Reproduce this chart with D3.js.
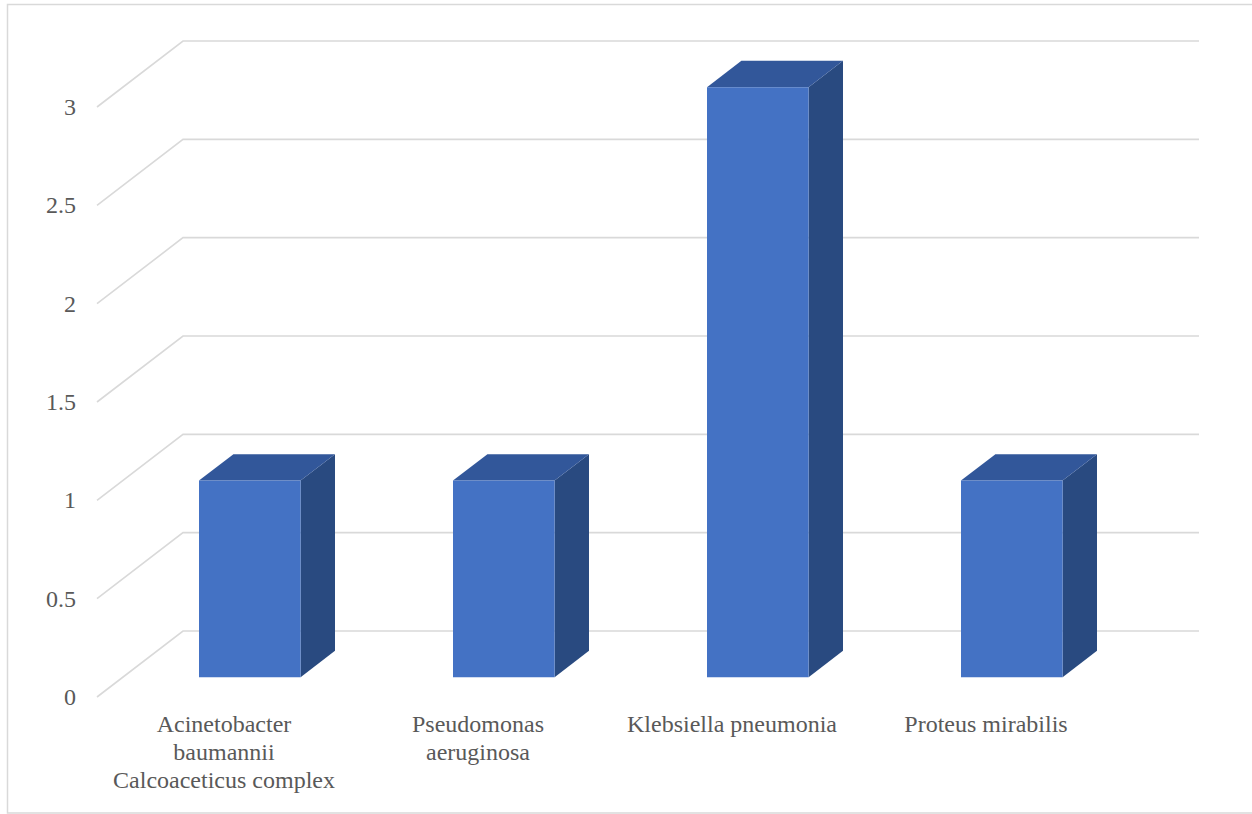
<!DOCTYPE html>
<html>
<head>
<meta charset="utf-8">
<script src="https://cdn.jsdelivr.net/npm/d3@7"></script>
<style>
  html, body { margin: 0; padding: 0; background: #fff; }
  svg { display: block; }
</style>
</head>
<body>
<svg id="chart" width="1252" height="814"></svg>
<script>
// Isolates per organism
const categories = [
  ["Acinetobacter", "baumannii", "Calcoaceticus complex"],
  ["Pseudomonas", "aeruginosa"],
  ["Klebsiella pneumonia"],
  ["Proteus mirabilis"]
];
const values = [1, 1, 3, 1];
const yTicks = [0, 0.5, 1, 1.5, 2, 2.5, 3];
const yTickLabels = ["0", "0.5", "1", "1.5", "2", "2.5", "3"];

const FONT = "'Liberation Serif', 'Times New Roman', serif";
const svg = d3.select("#chart");

// Outer frame
svg.append("rect")
  .attr("x", 7.5).attr("y", 4.5)
  .attr("width", 1262).attr("height", 808.5)
  .attr("fill", "none").attr("stroke", "#D9D9D9").attr("stroke-width", 1.5);

const keys = categories.map((c, i) => "c" + i);

// Front plane scales
const x = d3.scaleBand().domain(keys).range([97, 1113]).paddingInner(0.6).paddingOuter(0.3);
const y = d3.scaleLinear().domain([0, 3]).range([697, 107]);
// Oblique depth projection (0 = front, 1 = back wall)
const depthX = d3.scaleLinear().domain([0, 1]).range([0, 86]);
const depthY = d3.scaleLinear().domain([0, 1]).range([0, -66]);
const P = (px, v, z) => [px + depthX(z), y(v) + depthY(z)];

const x0 = x.range()[0], x1 = x.range()[1];

// Gridlines: side wall diagonals + back wall horizontals
const grid = svg.append("g").attr("stroke", "#D9D9D9").attr("stroke-width", 1.6).attr("fill", "none");
yTicks.forEach(t => {
  const a = P(x0, t, 0), b = P(x0, t, 1), c = P(x1, t, 1);
  grid.append("path").attr("d", d3.line()([a, b, c]));
});

// Y tick labels
svg.append("g").selectAll("text").data(yTicks).join("text")
  .attr("x", 76).attr("y", d => y(d) + 8)
  .attr("text-anchor", "end")
  .attr("font-family", FONT).attr("font-size", 24).attr("fill", "#595959")
  .text((d, i) => yTickLabels[i]);

// 3D columns
const zf = 0.3, zb = 0.7;
const bars = svg.append("g");
values.forEach((v, i) => {
  const l = x(keys[i]), r = l + x.bandwidth();
  const g = bars.append("g");
  const poly = pts => "M" + pts.map(p => p.join(",")).join("L") + "Z";
  // side face
  g.append("path").attr("fill", "#294A80")
    .attr("d", poly([P(r, 0, zf), P(r, 0, zb), P(r, v, zb), P(r, v, zf)]));
  // top face
  g.append("path").attr("fill", "#32579A")
    .attr("d", poly([P(l, v, zf), P(l, v, zb), P(r, v, zb), P(r, v, zf)]));
  // front face
  g.append("path").attr("fill", "#4472C4")
    .attr("d", poly([P(l, 0, zf), P(l, v, zf), P(r, v, zf), P(r, 0, zf)]));
});

// Category labels
const lab = svg.append("g");
categories.forEach((lines, i) => {
  const cx = x(keys[i]) + x.bandwidth() / 2;
  const t = lab.append("text").attr("text-anchor", "middle")
    .attr("font-family", FONT).attr("font-size", 24).attr("fill", "#595959")
    .attr("x", cx).attr("y", 732);
  lines.forEach((ln, j) => {
    t.append("tspan").attr("x", cx).attr("dy", j === 0 ? 0 : 28).text(ln);
  });
});
</script>
</body>
</html>
